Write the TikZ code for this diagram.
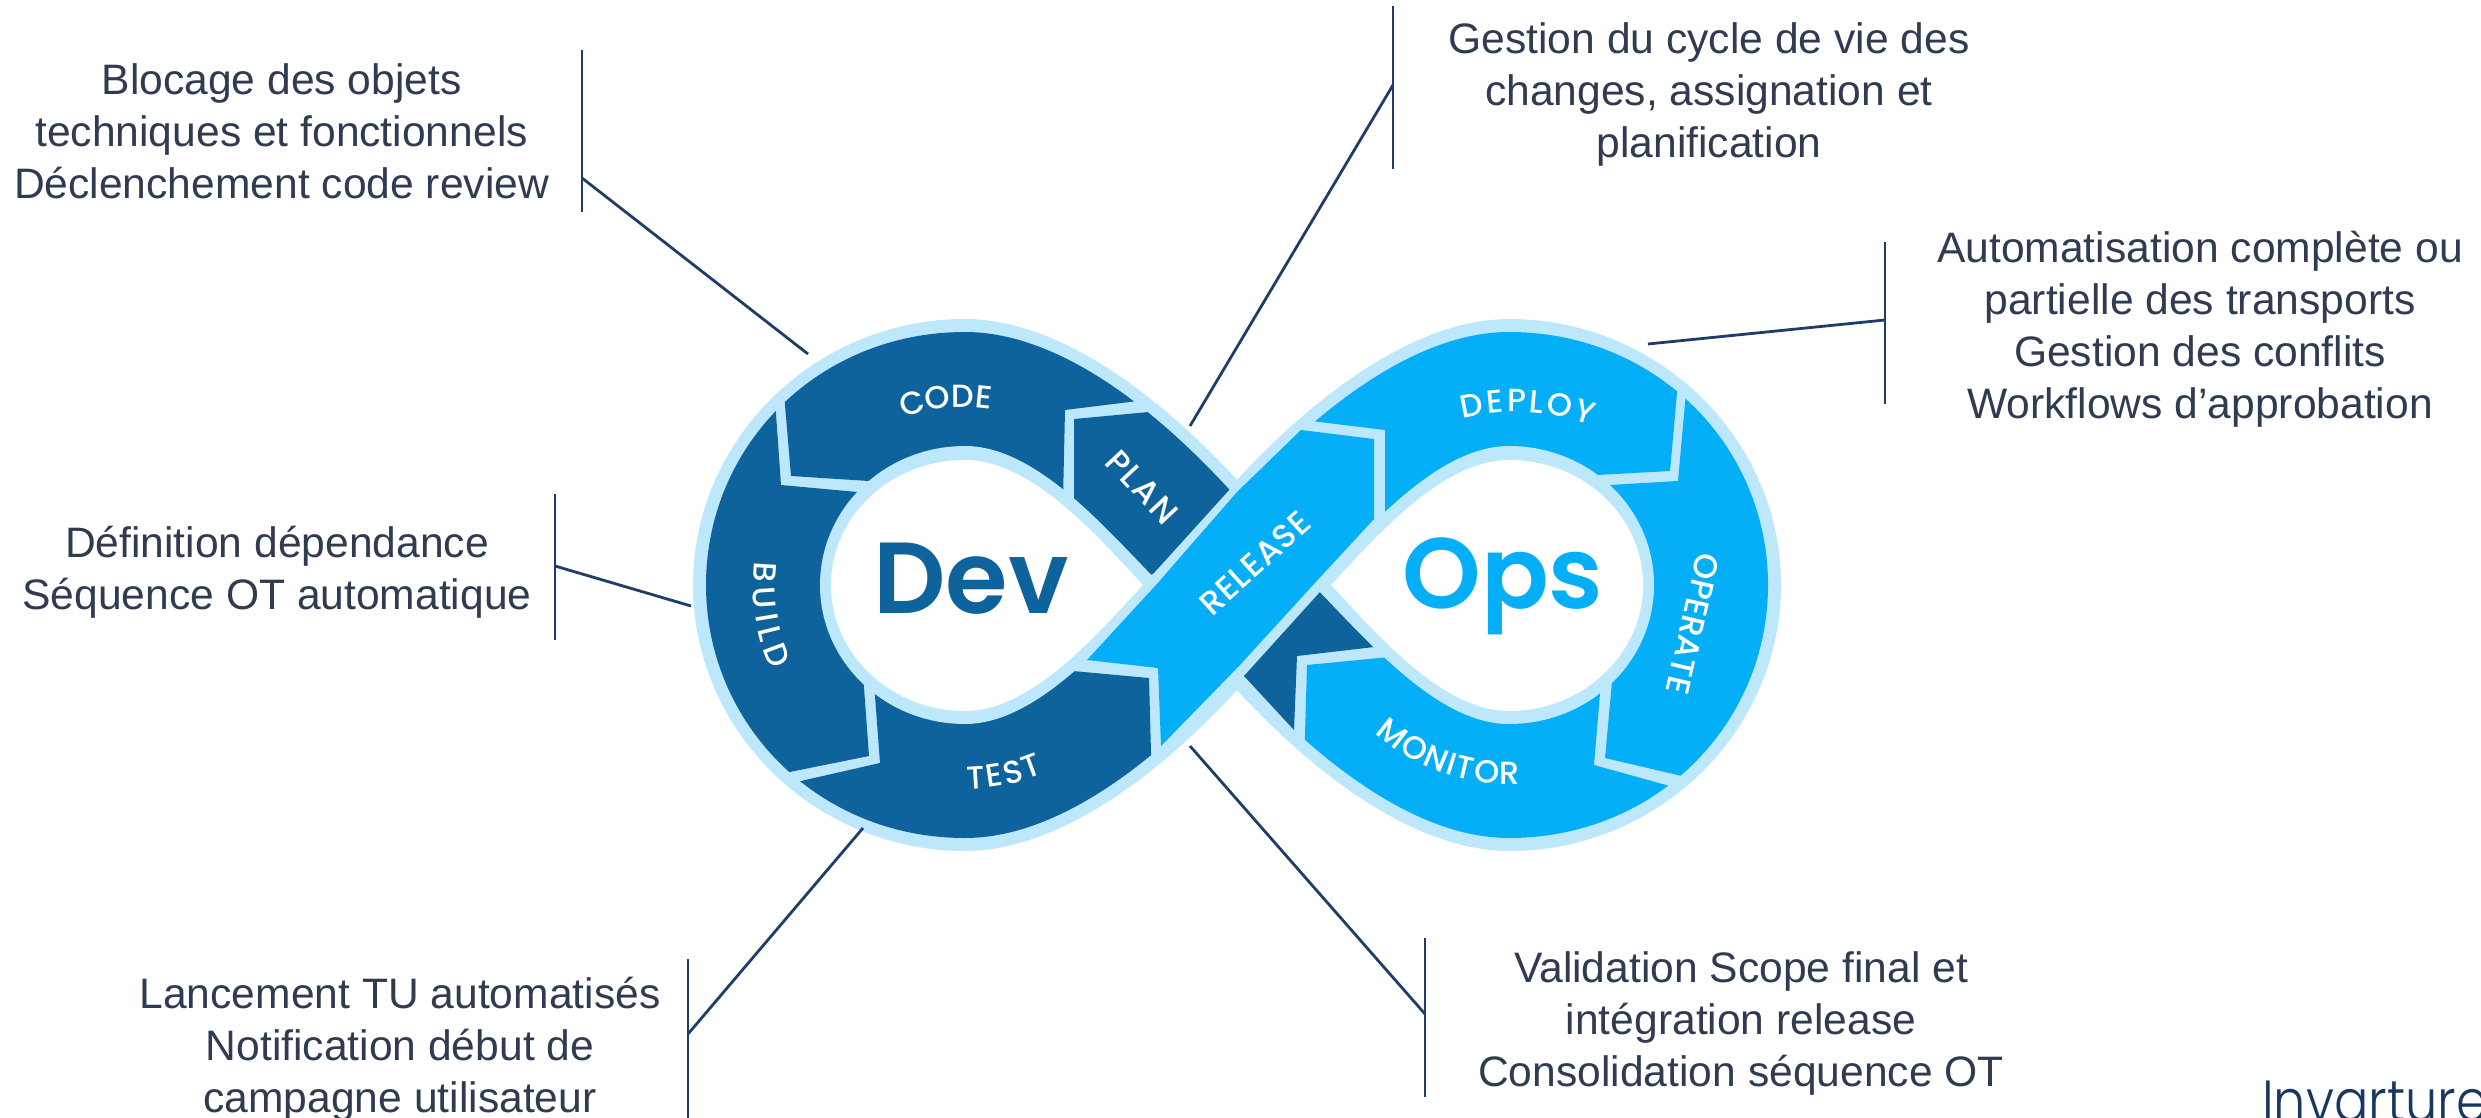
\documentclass[tikz,border=0pt]{standalone}
\usepackage{fontspec}
\usetikzlibrary{decorations.text,calc}
\setmainfont{Liberation Sans}
\newfontfamily\popfont{Poppins Medium}
\newfontfamily\popsemi{Poppins SemiBold}
\newfontfamily\poplight{Poppins Light}
\definecolor{halo}{HTML}{BDE7FB}
\definecolor{devblue}{HTML}{0E639D}
\definecolor{opsblue}{HTML}{04AFF8}
\definecolor{rulecol}{HTML}{1F3D68}
\definecolor{txtcol}{HTML}{2E3B50}
\definecolor{logocol}{HTML}{17375E}
\tikzset{
  callout/.style={align=center,inner sep=0pt,text=txtcol,font=\fontsize{42.6}{52}\selectfont},
  ruleline/.style={draw=rulecol,line width=2.8pt},
  seglabel/.style={inner sep=0pt,text=white,font=\popfont\fontsize{33}{33}\selectfont},
  devfill/.style={fill=devblue},
  opsfill/.style={fill=opsblue}
}
\newcommand\ringfill[2]{\fill[#2] ({#1*76},0) .. controls ({#1*130},-55) and ({#1*200},-139) .. ({#1*272},-139) .. controls ({#1*352},-139) and ({#1*417},-77) .. ({#1*417},0) .. controls ({#1*417},77) and ({#1*352},139) .. ({#1*272},139) .. controls ({#1*200},139) and ({#1*130},55) .. ({#1*76},0) -- cycle;}
\newcommand\holefill[2]{\fill[#2] ({#1*94},0) .. controls ({#1*139},-48) and ({#1*205},-125) .. ({#1*272},-125) .. controls ({#1*346},-125) and ({#1*406},-69) .. ({#1*406},0) .. controls ({#1*406},69) and ({#1*346},126) .. ({#1*272},126) .. controls ({#1*205},126) and ({#1*139},48) .. ({#1*94},0) -- cycle;}
\newcommand\arctext[6]{\path[postaction={decorate,decoration={text along path,text align=fit to path,text={|\popfont\fontsize{32}{32}\selectfont\color{white}|#6}}}] ($(#1,#2)+(#4:#3)$) arc[start angle=#4,end angle=#5,radius=#3];}
\begin{document}
\begin{tikzpicture}[x=1pt,y=-1pt]
\useasboundingbox (0,0) rectangle (2481,1118);
% infinity halo
\begin{scope}[shift={(1237,585)}]
\fill[halo] (0,-105) .. controls (-75,-187) and (-177,-266) .. (-272,-266) .. controls (-422,-266) and (-544,-146) .. (-544,0) .. controls (-544,146) and (-422,266) .. (-272,266) .. controls (-177,266) and (-75,187) .. (0,105) .. controls (75,187) and (177,266) .. (272,266) .. controls (422,266) and (544,146) .. (544,0) .. controls (544,-146) and (422,-266) .. (272,-266) .. controls (177,-266) and (75,-187) .. (0,-105) -- cycle;
\end{scope}
\begin{scope}
\begin{scope}[shift={(1237,585)}]
\clip (0,-87) .. controls (-70,-165) and (-172,-253) .. (-272,-253) .. controls (-419,-253) and (-531,-139) .. (-531,0) .. controls (-531,139) and (-419,253) .. (-272,253) .. controls (-172,253) and (-70,165) .. (0,87) .. controls (70,165) and (172,253) .. (272,253) .. controls (419,253) and (531,139) .. (531,0) .. controls (531,-139) and (419,-253) .. (272,-253) .. controls (172,-253) and (70,-165) .. (0,-87) -- cycle;
\begin{scope}[shift={(-1237,-585)}]
% CODE
\fill[devfill] (782,370) -- (791,476) -- (900,483) -- (965,530) -- (1063,500) -- (1065,410) -- (1170,397) -- (1170,300) -- (782,300) -- cycle;
% BUILD
\fill[devfill] (774,385) -- (781,485) -- (890,495) -- (900,585) -- (862,660) -- (869,756) -- (750,780) -- (650,780) -- (650,385) -- cycle;
% TEST
\fill[devfill] (770,788) -- (880,763) -- (875,696) -- (873,670) -- (965,650) -- (1040,668) -- (1149,678) -- (1152,790) -- (1152,880) -- (770,880) -- cycle;
% PLAN
\fill[devfill] (1250,467) -- (1153,574) -- (1120,585) -- (1074,510) -- (1074,419) -- (1170,410) -- cycle;
% lower wedge
\fill[devfill] (1244,676) -- (1320,592) -- (1400,644) -- (1297,656) -- (1294,730) -- cycle;
% DEPLOY
\fill[opsfill] (1295,419) -- (1385,430) -- (1385,520) -- (1508,530) -- (1570,476.5) -- (1670,471) -- (1680,360) -- (1680,300) -- (1295,300) -- cycle;
% OPERATE
\fill[opsfill] (1688,370) -- (1678,481) -- (1575,487) -- (1560,585) -- (1614,660) -- (1605,758) -- (1720,785) -- (1830,785) -- (1830,370) -- cycle;
% MONITOR
\fill[opsfill] (1307,665) -- (1410,655) -- (1508,620) -- (1602,670) -- (1594,765) -- (1720,800) -- (1720,900) -- (1300,900) -- (1304,770) -- cycle;
\end{scope}
\end{scope}
\end{scope}
% rings and holes
\begin{scope}[shift={(1237,585)}]
\ringfill{-1}{halo}
\ringfill{1}{halo}
\holefill{-1}{white}
\holefill{1}{white}
\end{scope}
% RELEASE
\fill[opsfill] (1087,660) -- (1156,585) -- (1237,492) -- (1301,430) -- (1374,439) -- (1374,519) -- (1313,585) -- (1240,665) -- (1161,746) -- (1158,668) -- cycle;
% centre words
\node[inner sep=0pt,anchor=base,text=devblue,font=\popsemi\fontsize{101}{101}\selectfont] (dev) at (971,613) {Dev};
\node[inner sep=0pt,anchor=base,text=opsblue,font=\popsemi\fontsize{100}{100}\selectfont] (ops) at (1503,608) {Ops};
% segment labels
\arctext{965}{585}{178}{-110.3}{-81.7}{CODE}
\arctext{965}{585}{204}{89.3}{67.3}{TEST}
\arctext{965}{585}{212}{186.4}{156.4}{BUILD}
\arctext{1516}{632}{220}{-104}{-70}{DEPLOY}
\arctext{1508}{585}{199}{132}{86.6}{MONITOR}
\node[seglabel,rotate=-47] (plan) at (1142,487) {\addfontfeature{LetterSpace=6}PLAN};
\node[seglabel,rotate=42] (release) at (1255,563) {\addfontfeature{LetterSpace=3}RELEASE};
\node[seglabel,rotate=-103] (operate) at (1693,624) {OPERATE};
% callouts
\node[callout] (ta) at (281.6,131) {Blocage des objets\\techniques et fonctionnels\\Déclenchement code review};
\node[callout] (tb) at (277,572) {Définition dépendance\\Séquence OT automatique};
\node[callout] (tc) at (400,1049.5) {Lancement TU automatisés\\Notification début de\\campagne utilisateur};
\node[callout] (td) at (1709,94) {Gestion du cycle de vie des\\changes, assignation et\\planification};
\node[callout] (te) at (2200,329.5) {Automatisation complète ou\\partielle des transports\\Gestion des conflits\\Workflows d’approbation};
\node[callout] (tf) at (1741,1023) {Validation Scope final et\\intégration release\\Consolidation séquence OT};
% rules
\coordinate (a1) at (582,50); \coordinate (a2) at (582,212); \coordinate (a3) at (582,178); \coordinate (a4) at (808,354);
\coordinate (b1) at (555,494); \coordinate (b2) at (555,640); \coordinate (b3) at (555,566); \coordinate (b4) at (691,606);
\coordinate (c1) at (688,959); \coordinate (c2) at (688,1118); \coordinate (c3) at (688,1034); \coordinate (c4) at (863,828);
\coordinate (d1) at (1393,6); \coordinate (d2) at (1393,169); \coordinate (d3) at (1393,85); \coordinate (d4) at (1190,426);
\coordinate (e1) at (1885,242); \coordinate (e2) at (1885,404); \coordinate (e3) at (1885,320); \coordinate (e4) at (1648,344);
\coordinate (f1) at (1425,938); \coordinate (f2) at (1425,1097); \coordinate (f3) at (1425,1014); \coordinate (f4) at (1190,746);
\foreach \n in {a,b,c,d,e,f}{
  \draw[ruleline] (\n1) -- (\n2);
  \draw[ruleline] (\n3) -- (\n4);
}
% logo
\node[inner sep=0pt,anchor=base west,transform shape,xscale=0.88,text=logocol,font=\poplight\fontsize{58}{58}\selectfont] (logo) at (2262,1121) {Invarture};
\end{tikzpicture}
\end{document}
